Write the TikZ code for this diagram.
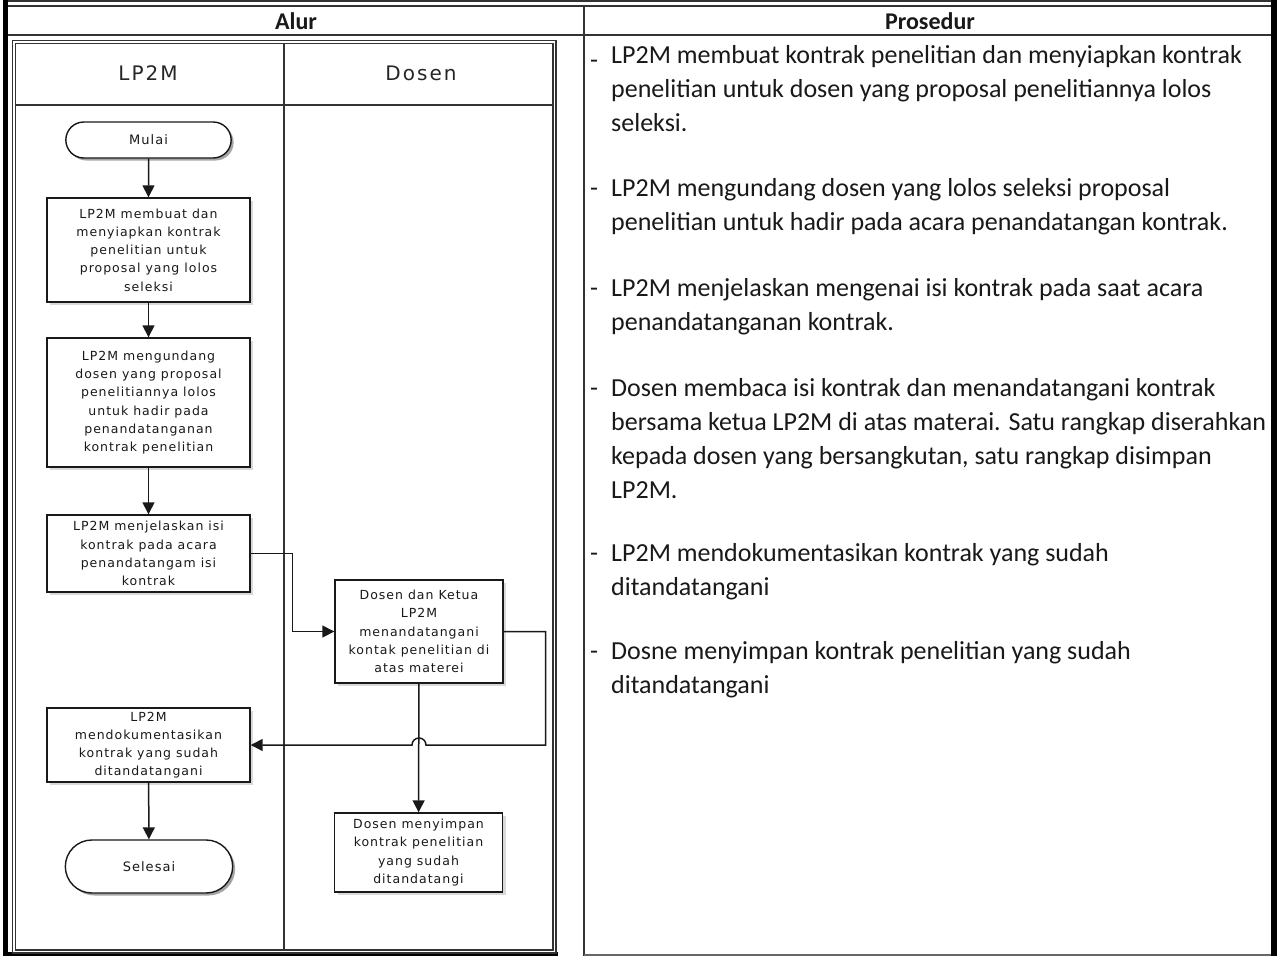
\documentclass[tikz,border=0pt]{standalone}
\usepackage{fontspec}
\setmainfont{Carlito}
\newfontfamily\boxfont[LetterSpace=8]{DejaVu Sans}
\newfontfamily\lanefont[LetterSpace=10]{DejaVu Sans}
\usetikzlibrary{arrows.meta,shadows,calc,shapes.misc}
\begin{document}
\begin{tikzpicture}[x=1pt,y=-1pt,
  frameline/.style={line width=2pt, draw=black!80},
  procbox/.style={draw=black!90, line width=1.4pt, fill=white, minimum width=203pt,
    align=center, font=\boxfont\fontsize{12.5}{18.2}\selectfont, text=black!90, inner sep=2pt,
    drop shadow={shadow xshift=3pt, shadow yshift=-3pt, fill=black!15, opacity=1}},
  dosbox/.style={procbox, minimum width=168pt},
  term/.style={rounded rectangle, draw=black!90, line width=1.4pt, fill=white,
    minimum width=172pt, font=\boxfont\fontsize{13}{18}\selectfont, text=black!90,
    drop shadow={shadow xshift=2.5pt, shadow yshift=-2.5pt, fill=black!35, opacity=1}},
  flow/.style={line width=1.5pt, draw=black!90, -{Triangle[width=12pt,length=12pt]}},
  hdr/.style={font=\bfseries\fontsize{24}{28}\selectfont, text=black!90},
  lane/.style={font=\lanefont\fontsize{20}{24}\selectfont, text=black!85},
  ptext/.style={anchor=base west, inner sep=0pt, font=\fontsize{26}{34}\selectfont, text=black!90},
]
\useasboundingbox (0,0) rectangle (1280,956);
\fill[white] (0,0) rectangle (1280,956);

% outer frame
\draw[frameline] (3,1) -- (1277,1);
\draw[frameline] (8,6) -- (1271,6);
\fill[black] (3,0) rectangle (8,956);
\fill[black] (1271,0) rectangle (1277,956);
\draw[frameline] (8,35) -- (1271,35);
\draw[frameline] (584,6) -- (584,956);
\draw[line width=1.2pt, draw=black!60] (584,955) -- (1271,955);
\fill[black] (3,952) rectangle (558,956);

% pool (double border)
\draw[line width=1.4pt, draw=black!80] (12.5,40.5) rectangle (556,953);
\draw[line width=1.4pt, draw=black!80] (15.5,43.5) rectangle (553,950);
\draw[line width=1.4pt, draw=black!80] (15.5,105) -- (553,105);
\draw[line width=1.4pt, draw=black!80] (284,43.5) -- (284,950);

% headers
\node[hdr] (alur) at (296,21) {Alur};
\node[hdr] (prosedur) at (930,21) {Prosedur};
\node[lane] (laneA) at (148,73) {LP2M};
\node[lane] (laneB) at (421,73) {Dosen};

% flow nodes
\node[term, minimum height=36pt] (mulai) at (148.5,140) {Mulai};
\node[procbox, minimum height=104pt] (b1) at (148.5,250) {LP2M membuat dan\\menyiapkan kontrak\\penelitian untuk\\proposal yang lolos\\seleksi};
\node[procbox, minimum height=129pt] (b2) at (148.5,402.5) {LP2M mengundang\\dosen yang proposal\\penelitiannya lolos\\untuk hadir pada\\penandatanganan\\kontrak penelitian};
\node[procbox, minimum height=77pt] (b3) at (148.5,553.5) {LP2M menjelaskan isi\\kontrak pada acara\\penandatangam isi\\kontrak};
\node[dosbox, minimum height=103pt] (b4) at (419,631.5) {Dosen dan Ketua\\LP2M\\menandatangani\\kontak penelitian di\\atas materei};
\node[procbox, minimum height=74pt] (b5) at (148.5,745) {LP2M\\mendokumentasikan\\kontrak yang sudah\\ditandatangani};
\node[term, minimum height=53pt, minimum width=174pt] (selesai) at (149,866.5) {Selesai};
\node[dosbox, minimum height=79pt] (b6) at (418.5,852.5) {Dosen menyimpan\\kontrak penelitian\\yang sudah\\ditandatangi};

% connectors
\draw[flow] (mulai) -- (b1);
\draw[flow] (b1) -- (b2);
\draw[flow] (b2) -- (b3);
\draw[flow] (b3.east) -- ++(42,0) |- (b4.west);
\draw[flow] (b4) -- (b6);
\draw[flow] (b4.east) -- ++(42,0) coordinate (k1) -- (k1 |- b5.east)
   -- ($(b4.south |- b5.east)+(7,0)$) arc (0:-180:7) -- (b5.east);
\draw[flow] (b5) -- (selesai);

% procedure text
\node[ptext] (d1) at (590,63) {\raisebox{-5pt}{-}};
\node[ptext] (p1) at (611,63) {\parbox[t]{660pt}{LP2M membuat kontrak penelitian dan menyiapkan kontrak\\penelitian untuk dosen yang proposal penelitiannya lolos\\seleksi.}};
\node[ptext] (d2) at (590,196) {-};
\node[ptext] (p2) at (611,196) {\parbox[t]{660pt}{LP2M mengundang dosen yang lolos seleksi proposal\\penelitian untuk hadir pada acara penandatangan kontrak.}};
\node[ptext] (d3) at (590,296) {-};
\node[ptext] (p3) at (611,296) {\parbox[t]{660pt}{LP2M menjelaskan mengenai isi kontrak pada saat acara\\penandatanganan kontrak.}};
\node[ptext] (d4) at (590,396) {-};
\node[ptext] (p4) at (611,396) {\parbox[t]{660pt}{Dosen membaca isi kontrak dan menandatangani kontrak\\bersama ketua LP2M di atas materai. Satu rangkap diserahkan\\kepada dosen yang bersangkutan, satu rangkap disimpan\\LP2M.}};
\node[ptext] (d5) at (590,561) {-};
\node[ptext] (p5) at (611,561) {\parbox[t]{660pt}{LP2M mendokumentasikan kontrak yang sudah\\ditandatangani}};
\node[ptext] (d6) at (590,659) {-};
\node[ptext] (p6) at (611,659) {\parbox[t]{660pt}{Dosne menyimpan kontrak penelitian yang sudah\\ditandatangani}};
\end{tikzpicture}
\end{document}
